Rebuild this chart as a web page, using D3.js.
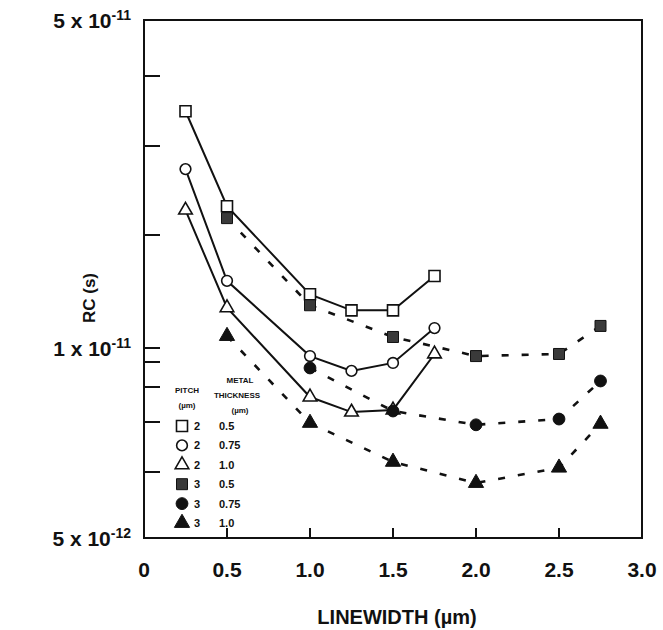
<!DOCTYPE html>
<html><head><meta charset="utf-8">
<script src="https://cdn.jsdelivr.net/npm/d3@7"></script>
<style>
body{margin:0;background:#fff}
text{font-family:"Liberation Sans",Arial,Helvetica,sans-serif;font-weight:bold;fill:#111}
</style>
</head><body><svg id="c" width="663" height="630"></svg>
<script>
// ---- data ----
const linewidthP2 = [0.25, 0.5, 1.0, 1.25, 1.5, 1.75];
const linewidthP3 = [0.5, 1.0, 1.5, 2.0, 2.5, 2.75];
const linewidthP3c = [1.0, 1.5, 2.0, 2.5, 2.75];
const rcP2T050 = [3.46e-11, 2.28e-11, 1.39e-11, 1.26e-11, 1.26e-11, 1.555e-11];
const rcP2T075 = [2.70e-11, 1.51e-11, 9.41e-12, 8.63e-12, 8.96e-12, 1.13e-11];
const rcP2T100 = [2.24e-11, 1.28e-11, 7.70e-12, 7.27e-12, 7.33e-12, 9.56e-12];
const rcP3T050 = [2.16e-11, 1.30e-11, 1.07e-11, 9.41e-12, 9.56e-12, 1.145e-11];
const rcP3T075 = [8.75e-12, 7.30e-12, 6.94e-12, 7.08e-12, 8.23e-12];
const rcP3T100 = [1.076e-11, 6.98e-12, 6.19e-12, 5.82e-12, 6.08e-12, 6.96e-12];

const xTicks = [0.5, 1.0, 1.5, 2.0, 2.5];
const xTickLabels = ["0", "0.5", "1.0", "1.5", "2.0", "2.5", "3.0"];
const xLabelValues = [0, 0.5, 1.0, 1.5, 2.0, 2.5, 3.0];
const yTickValues = [5e-12, 6e-12, 7e-12, 8e-12, 9e-12, 1e-11, 2e-11, 3e-11, 4e-11, 5e-11];
// calibration of the (hand-drawn) log axis: fraction of height for each tick value
const yAxisFrac = [0, 0.1274, 0.2239, 0.2915, 0.3398, 0.3668, 0.5849, 0.7568, 0.8919, 1];
const yLabels = [{v: 5e-11, m: "5 x 10", e: "-11"}, {v: 1e-11, m: "1 x 10", e: "-11"}, {v: 5e-12, m: "5 x 10", e: "-12"}];

const legendPitch = ["2", "2", "2", "3", "3", "3"];
const legendThick = ["0.5", "0.75", "1.0", "0.5", "0.75", "1.0"];

// ---- layout ----
const L = 144, R = 642, T = 20, B = 538;
const svg = d3.select("#c");
const x = d3.scaleLinear().domain([0, 3]).range([L, R]);
const y = d3.scaleLog().domain(yTickValues).range(yAxisFrac.map(f => B - f * (B - T)));

const ink = "#111";

// frame
svg.append("rect").attr("x", L).attr("y", T).attr("width", R - L).attr("height", B - T)
  .attr("fill", "none").attr("stroke", ink).attr("stroke-width", 2);

// y ticks (inward)
svg.append("g").selectAll("line").data(yTickValues.filter(v => v > 5e-12 && v < 5e-11)).join("line")
  .attr("x1", L).attr("x2", L + 16).attr("y1", d => y(d)).attr("y2", d => y(d))
  .attr("stroke", ink).attr("stroke-width", 2);
// x ticks (inward)
svg.append("g").selectAll("line").data(xTicks).join("line")
  .attr("x1", d => x(d)).attr("x2", d => x(d)).attr("y1", B).attr("y2", B - 10)
  .attr("stroke", ink).attr("stroke-width", 2);

// y tick labels
const yl = svg.append("g").selectAll("text").data(yLabels).join("text")
  .attr("x", 131).attr("y", d => y(d.v) + 8).attr("text-anchor", "end").attr("font-size", 21);
yl.append("tspan").text(d => d.m);
yl.append("tspan").attr("dy", -8).attr("font-size", 14).text(d => d.e);

// x tick labels
svg.append("g").selectAll("text").data(xLabelValues).join("text")
  .attr("x", d => x(d)).attr("y", 577).attr("text-anchor", "middle").attr("font-size", 21)
  .text((d, i) => xTickLabels[i]);

// axis titles
svg.append("text").attr("x", 397).attr("y", 624).attr("text-anchor", "middle").attr("font-size", 20)
  .text("LINEWIDTH (\u00b5m)");
svg.append("text").attr("transform", "translate(95,298) rotate(-90)").attr("text-anchor", "middle")
  .attr("font-size", 17).text("RC (s)");

// ---- series ----
const series = [
  {xs: linewidthP2, ys: rcP2T050, sym: d3.symbolSquare, size: 121, filled: false, dash: false},
  {xs: linewidthP2, ys: rcP2T075, sym: d3.symbolCircle, size: 90, filled: false, dash: false},
  {xs: linewidthP2, ys: rcP2T100, sym: d3.symbolTriangle, size: 80, filled: false, dash: false},
  {xs: linewidthP3, ys: rcP3T050, sym: d3.symbolSquare, size: 121, filled: true, dash: true},
  {xs: linewidthP3c, ys: rcP3T075, sym: d3.symbolCircle, size: 110, filled: true, dash: true},
  {xs: linewidthP3, ys: rcP3T100, sym: d3.symbolTriangle, size: 100, filled: true, dash: true}
];

const line = d3.line().x(d => x(d[0])).y(d => y(d[1]));
series.forEach(s => {
  svg.append("path").datum(s.xs.map((v, i) => [v, s.ys[i]]))
    .attr("d", line).attr("fill", "none").attr("stroke", ink)
    .attr("stroke-width", s.dash ? 2.6 : 2)
    .attr("stroke-dasharray", s.dash ? "7,13" : null);
});
function drawMarkers(s) {
  svg.append("g").selectAll("path").data(s.xs.map((v, i) => [v, s.ys[i]])).join("path")
    .attr("transform", d => `translate(${x(d[0])},${y(d[1])})`)
    .attr("d", d3.symbol(s.sym, s.size))
    .attr("fill", s.filled ? (s.sym === d3.symbolSquare ? "#3a3a3a" : ink) : "#fff")
    .attr("stroke", ink).attr("stroke-width", s.filled ? 1 : 1.6);
}
series.forEach(drawMarkers);

// ---- legend ----
const lg = svg.append("g");
lg.append("text").attr("x", 187).attr("y", 393).attr("text-anchor", "middle").attr("font-size", 8).text("PITCH");
lg.append("text").attr("x", 187).attr("y", 408).attr("text-anchor", "middle").attr("font-size", 8).text("(\u00b5m)");
lg.append("text").attr("x", 240).attr("y", 383).attr("text-anchor", "middle").attr("font-size", 8).text("METAL");
lg.append("text").attr("x", 237).attr("y", 398).attr("text-anchor", "middle").attr("font-size", 8).text("THICKNESS");
lg.append("text").attr("x", 240).attr("y", 413).attr("text-anchor", "middle").attr("font-size", 8).text("(\u00b5m)");
const rowY = i => 426 + i * 19.4;
series.forEach((s, i) => {
  lg.append("path").attr("transform", `translate(182,${rowY(i)})`)
    .attr("d", d3.symbol(s.sym, s.size))
    .attr("fill", s.filled ? (s.sym === d3.symbolSquare ? "#3a3a3a" : ink) : "#fff")
    .attr("stroke", ink).attr("stroke-width", s.filled ? 1 : 1.6);
  lg.append("text").attr("x", 194).attr("y", rowY(i) + 4).attr("font-size", 11).text(legendPitch[i]);
  lg.append("text").attr("x", 219).attr("y", rowY(i) + 4).attr("font-size", 11).text(legendThick[i]);
});
</script>
</body></html>
